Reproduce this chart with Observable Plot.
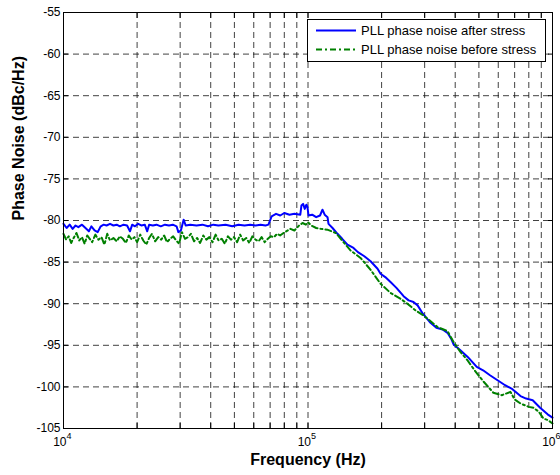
<!DOCTYPE html>
<html>
<head>
<meta charset="utf-8">
<script src="https://cdn.jsdelivr.net/npm/d3@7"></script>
<script src="https://cdn.jsdelivr.net/npm/@observablehq/plot@0.6"></script>
<style>
  html, body { margin: 0; padding: 0; background: white; }
  #chart { width: 560px; height: 475px; }
</style>
</head>
<body>
<div id="chart"></div>
<script>
// ---- data ----
const seriesNames = ["PLL phase noise after stress", "PLL phase noise before stress"];
const xDecades = [1e4, 1e5, 1e6];
const xGridTicks = [2e4,3e4,4e4,5e4,6e4,7e4,8e4,9e4,1e5,2e5,3e5,4e5,5e5,6e5,7e5,8e5,9e5];
const yTicks = [-105,-100,-95,-90,-85,-80,-75,-70,-65,-60,-55];
const yGridTicks = [-100,-95,-90,-85,-80,-75,-70,-65,-60];

// [frequency Hz, phase noise dBc/Hz]
const afterStress = [
  [10000,-80.4],[10300,-80.9],[10600,-80.5],[10900,-81.0],[11200,-80.6],[11500,-80.8],
  [11900,-80.5],[12300,-80.9],[12700,-81.3],[13000,-80.7],[13400,-81.2],[13800,-81.4],
  [14200,-80.7],[14600,-80.5],[15000,-80.6],[15500,-80.4],[16000,-80.6],[16500,-80.5],
  [17000,-80.7],[17600,-80.5],[18200,-80.6],[18700,-81.3],[19100,-80.5],[19600,-80.7],
  [20200,-80.4],[20800,-80.6],[21500,-80.5],[22000,-81.3],[22400,-80.5],[23200,-80.6],
  [24000,-80.5],[25000,-80.7],[26000,-80.5],[27000,-80.6],[28000,-80.5],[29000,-80.7],
  [29500,-81.4],[30200,-81.2],[31000,-79.9],[31600,-80.6],[33000,-80.5],[35000,-80.6],
  [37000,-80.5],[39000,-80.7],[41000,-80.5],[43000,-80.6],[46000,-80.5],[49000,-80.7],
  [52000,-80.5],[55000,-80.6],[58000,-80.5],[61000,-80.6],[64000,-80.5],[67000,-80.6],
  [68900,-80.5],[71000,-79.5],[74000,-79.2],[77000,-79.4],[80000,-79.1],[84000,-79.3],
  [88000,-79.2],[93000,-79.3],[94000,-78.2],[95500,-78.0],[97000,-78.6],[98500,-78.1],
  [99500,-78.4],[100500,-79.4],[104000,-79.3],[108000,-79.6],[112000,-79.4],[114600,-78.7],
  [117000,-79.3],[120200,-79.6],[121300,-80.4],[126000,-80.9],[132000,-81.6],[138000,-82.2],
  [145000,-82.9],[153500,-83.3],[160000,-83.8],[170000,-84.3],[180300,-84.9],[192500,-85.8],
  [198000,-86.4],[207000,-86.8],[217500,-87.4],[230000,-88.1],[246000,-89.1],[258000,-89.6],
  [270000,-89.8],[280700,-90.2],[295000,-91.2],[317000,-92.3],[335000,-92.9],[355000,-93.1],
  [372000,-93.5],[385000,-94.2],[394000,-94.9],[420000,-95.6],[450000,-96.4],[490000,-97.6],
  [520000,-98.0],[555000,-98.6],[596000,-99.2],[640000,-99.8],[680000,-100.2],[740000,-101.1],
  [780000,-101.4],[830000,-101.6],[890000,-102.5],[955000,-103.3],[1000000,-103.7]
];

const beforeStress = [
  [10000,-81.6],[10250,-82.3],[10500,-81.9],[10750,-82.7],[11000,-82.1],[11300,-81.5],
  [11600,-82.4],[11900,-82.0],[12200,-82.8],[12500,-81.8],[12800,-82.2],[13100,-82.6],
  [13500,-81.7],[13900,-82.3],[14300,-82.0],[14700,-82.9],[15100,-81.6],[15500,-82.4],
  [16000,-82.1],[16500,-82.5],[17000,-81.9],[17500,-82.2],[18000,-82.7],[18500,-81.8],
  [19000,-82.3],[19500,-82.0],[20000,-82.6],[20600,-81.7],[21200,-82.4],[21800,-82.9],
  [22400,-82.1],[23000,-81.6],[23700,-82.5],[24400,-82.0],[25100,-82.3],[25800,-81.8],
  [26500,-82.6],[27300,-82.2],[28100,-81.9],[28900,-82.4],[29700,-82.8],[30500,-81.4],
  [31400,-82.2],[32300,-82.0],[33200,-81.6],[34200,-82.5],[35200,-82.1],[36200,-82.7],
  [37300,-81.8],[38400,-82.3],[39500,-82.0],[40700,-82.6],[41900,-81.7],[43100,-82.4],
  [44400,-82.2],[45700,-82.8],[47000,-81.9],[48400,-82.3],[49800,-82.0],[51300,-82.6],
  [52800,-81.7],[54300,-82.4],[55900,-82.1],[57500,-82.7],[59200,-81.9],[61000,-82.3],
  [62800,-82.5],[64600,-82.0],[66500,-82.6],[68500,-82.2],[70500,-81.9],[72600,-82.0],
  [74700,-81.6],[76900,-81.8],[79400,-81.5],[84800,-81.0],[88000,-81.2],[92000,-80.6],
  [95000,-80.3],[98000,-80.5],[100000,-80.2],[103000,-80.6],[108000,-80.9],[112500,-81.0],
  [120000,-81.1],[130000,-81.5],[139600,-82.6],[149200,-83.6],[164000,-84.5],[180000,-85.9],
  [198000,-87.6],[217500,-88.7],[238700,-89.4],[255000,-90.0],[275000,-90.8],[296600,-91.4],
  [320000,-92.2],[338500,-92.8],[372000,-93.3],[394000,-94.6],[420000,-95.8],[449000,-96.8],
  [480000,-98.0],[520000,-99.3],[573000,-100.7],[620000,-101.0],[673000,-100.6],[700000,-101.5],
  [740000,-102.0],[800000,-102.4],[836000,-102.5],[880000,-103.0],[918000,-103.8],[960000,-104.0],
  [1000000,-104.4]
];

const colors = ["#0000ff", "#008000"];
const dashes = [null, "6,3,2,3"];

const font = "'Liberation Sans', Arial, Helvetica, sans-serif";

const chart = Plot.plot({
  width: 560,
  height: 475,
  marginLeft: 63,
  marginRight: 8,
  marginTop: 12,
  marginBottom: 47,
  style: {fontFamily: font, fontSize: "12px", background: "white", color: "black", overflow: "visible"},
  x: {type: "log", domain: [1e4, 1e6], axis: null},
  y: {domain: [-105, -55], axis: null},
  marks: [
    Plot.ruleX(xGridTicks, {stroke: "#111", strokeWidth: 0.8, strokeDasharray: "6,4"}),
    Plot.ruleY(yGridTicks, {stroke: "#111", strokeWidth: 0.8, strokeDasharray: "6,4"}),
    Plot.line(afterStress, {x: d => d[0], y: d => d[1], stroke: colors[0], strokeWidth: 2}),
    Plot.line(beforeStress, {x: d => d[0], y: d => d[1], stroke: colors[1], strokeWidth: 2, strokeDasharray: dashes[1]}),
    Plot.frame({stroke: "black", strokeWidth: 1}),
    Plot.axisX(xGridTicks, {anchor: "bottom", tickSize: -5, tickFormat: () => "", stroke: "black", label: null}),
    Plot.axisX(xGridTicks, {anchor: "top", tickSize: -5, tickFormat: () => "", stroke: "black", label: null}),
    Plot.axisY(yTicks, {anchor: "left", tickSize: -5, tickPadding: 8, tickFormat: d => String(d), fontSize: 12, label: null}),
    Plot.axisY(yTicks, {anchor: "right", tickSize: -5, tickFormat: () => "", label: null}),
    Plot.text(xDecades, {x: d => d, frameAnchor: "bottom", text: () => "10", textAnchor: "end", dx: 3, dy: 17, fontSize: 12, fill: "black"}),
    Plot.text(xDecades, {x: d => d, frameAnchor: "bottom", text: d => String(Math.round(Math.log10(d))), textAnchor: "start", dx: 3, dy: 10, fontSize: 9, fill: "black"}),
    Plot.text(["Frequency (Hz)"], {frameAnchor: "bottom", dy: 36, fontSize: 16, fontWeight: "bold", fill: "black"}),
    Plot.text(["Phase Noise (dBc/Hz)"], {frameAnchor: "left", dx: -45, rotate: -90, fontSize: 16, fontWeight: "bold", fill: "black"})
  ]
});

document.getElementById("chart").appendChild(chart);

// ---- legend ----
const svg = d3.select(chart);
const lg = svg.append("g").attr("font-family", font).attr("font-size", 13).attr("text-anchor", "start");
lg.append("rect").attr("x", 307.5).attr("y", 19.5).attr("width", 238).attr("height", 42)
  .attr("fill", "white").attr("stroke", "black").attr("stroke-width", 1);
seriesNames.forEach((name, i) => {
  const yy = 30.5 + i * 19;
  lg.append("line").attr("x1", 316).attr("x2", 356).attr("y1", yy).attr("y2", yy)
    .attr("stroke", colors[i]).attr("stroke-width", 2)
    .attr("stroke-dasharray", dashes[i]);
  lg.append("text").attr("x", 361).attr("y", yy + 4.5).attr("fill", "black")
    .attr("text-anchor", "start").text(name);
});
</script>
</body>
</html>
